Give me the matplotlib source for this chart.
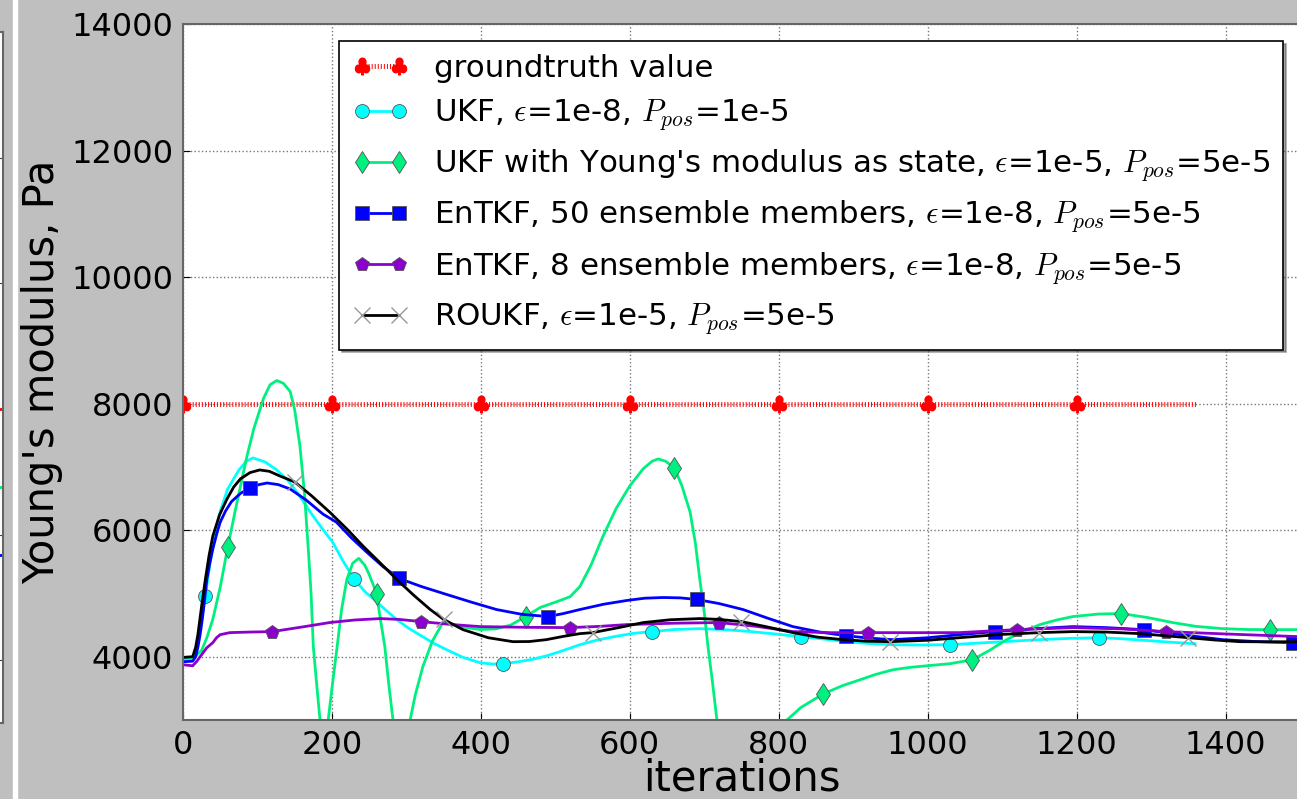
import numpy as np
import matplotlib
matplotlib.use('Agg')
import matplotlib.pyplot as plt
from matplotlib.patches import Rectangle

plt.rcParams['mathtext.fontset'] = 'cm'
plt.rcParams['font.family'] = ['DejaVu Sans']
plt.rcParams['lines.scale_dashes'] = False

# groundtruth
gt_x = [0, 200, 400, 600, 800, 1000, 1200, 1360]
gt_y = [8000, 8000, 8000, 8000, 8000, 8000, 8000, 8000]
gt_marks = [0, 200, 400, 600, 800, 1000, 1200]

# UKF, eps=1e-8
ukf_x = [0, 13, 18, 24, 30, 36, 42, 50, 60, 75, 85, 94, 110, 125, 140, 155, 171, 186, 201,
         215, 230, 245, 260, 274, 287, 303, 320, 337, 354, 376, 399, 415, 430, 450, 470,
         490, 506, 533, 555, 580, 605, 630, 660, 694, 725, 760, 795, 830, 860, 890, 920,
         953, 990, 1030, 1060, 1090, 1120, 1151, 1190, 1230, 1260, 1290, 1325, 1359]
ukf_y = [3950, 3960, 4100, 4500, 4952, 5450, 5900, 6300, 6650, 6950, 7090, 7142, 7080,
         6960, 6800, 6570, 6285, 6040, 5810, 5510, 5222, 5020, 4870, 4720, 4587, 4450,
         4330, 4210, 4111, 3990, 3905, 3885, 3890, 3920, 3960, 4020, 4080, 4190, 4260,
         4320, 4370, 4397, 4430, 4444, 4430, 4400, 4360, 4317, 4280, 4240, 4210, 4190,
         4185, 4190, 4210, 4230, 4250, 4270, 4290, 4300, 4285, 4260, 4230, 4206]
ukf_marks = [30, 230, 430, 630, 830, 1030, 1230]

# UKF with Young's modulus as state
ukfy_x = [0, 15, 25, 32, 40, 50, 60, 70, 80, 86, 95, 108, 117, 126, 135, 144, 150, 157,
          163, 168, 172, 175, 180, 184, 190, 195, 200, 207, 213, 220, 228, 236, 244, 250,
          256, 260, 265, 271, 276, 282, 293, 305, 312, 322, 335, 349, 365, 381, 399, 420,
          440, 460, 480, 502, 520, 533, 548, 564, 582, 600, 618, 630, 638, 648, 660, 670,
          681, 688, 694, 700, 705, 711, 717, 740, 770, 795, 811, 830, 860, 885, 909, 930,
          953, 975, 999, 1030, 1060, 1083, 1106, 1128, 1151, 1173, 1195, 1230, 1260, 1295,
          1329, 1360, 1396, 1430, 1460, 1500]
ukfy_y = [3980, 3990, 4100, 4300, 4590, 5100, 5730, 6300, 6850, 7175, 7600, 8080, 8300,
          8365, 8320, 8190, 7900, 7333, 6600, 5745, 5000, 4160, 3500, 3000, 2000, 3000,
          3500, 4160, 4750, 5222, 5480, 5555, 5450, 5300, 5120, 4984, 4600, 4160, 3600,
          3000, 2000, 3000, 3400, 3840, 4250, 4540, 4500, 4460, 4430, 4440, 4500, 4635,
          4780, 4870, 4950, 5110, 5450, 5905, 6350, 6700, 6970, 7090, 7126, 7090, 6985,
          6700, 6285, 5800, 5222, 4700, 4160, 3600, 3000, 500, 0, 2000, 3000, 3200, 3413,
          3540, 3635, 3720, 3793, 3830, 3857, 3890, 3952, 4100, 4270, 4400, 4508, 4580,
          4635, 4675, 4682, 4620, 4540, 4480, 4444, 4430, 4428, 4428]
ukfy_marks = [60, 260, 460, 660, 860, 1060, 1260, 1460]

# EnTKF, 50 members
en50_x = [0, 13, 17, 20, 23, 26, 29, 32, 36, 40, 45, 50, 57, 65, 77, 90, 102, 113, 128,
          144, 165, 188, 206, 226, 247, 268, 290, 320, 354, 388, 421, 455, 490, 510, 533,
          565, 596, 620, 645, 668, 690, 720, 752, 785, 819, 855, 890, 920, 953, 1000, 1043,
          1090, 1140, 1195, 1240, 1290, 1340, 1396, 1440, 1490, 1500]
en50_y = [3920, 3930, 4000, 4150, 4350, 4600, 4900, 5222, 5480, 5700, 5930, 6127, 6300,
          6450, 6580, 6666, 6720, 6746, 6720, 6650, 6480, 6254, 6127, 5880, 5650, 5430,
          5238, 5110, 4984, 4860, 4746, 4670, 4635, 4680, 4746, 4830, 4889, 4925, 4936,
          4930, 4905, 4840, 4746, 4610, 4476, 4390, 4333, 4295, 4270, 4300, 4349, 4397,
          4440, 4476, 4460, 4428, 4350, 4270, 4240, 4222, 4222]
en50_marks = [90, 290, 490, 690, 890, 1090, 1290, 1490]

# EnTKF, 8 members
en8_x = [0, 13, 18, 23, 28, 32, 40, 45, 50, 63, 90, 120, 160, 197, 230, 265, 290, 320,
         360, 399, 460, 520, 560, 596, 660, 720, 770, 819, 870, 920, 980, 1043, 1080,
         1120, 1195, 1260, 1320, 1400, 1500]
en8_y = [3873, 3857, 3920, 4000, 4080, 4143, 4222, 4300, 4349, 4381, 4390, 4397, 4470,
         4540, 4580, 4603, 4590, 4555, 4510, 4476, 4465, 4460, 4480, 4508, 4530, 4540,
         4480, 4397, 4380, 4381, 4380, 4381, 4405, 4428, 4460, 4440, 4397, 4360, 4317]
en8_marks = [120, 320, 520, 720, 920, 1120, 1320]

# ROUKF
rou_x = [0, 13, 17, 20, 25, 30, 35, 40, 49, 59, 68, 77, 90, 103, 116, 130, 150, 173, 197,
         220, 242, 265, 287, 310, 332, 350, 376, 410, 443, 465, 488, 510, 533, 550, 585,
         618, 655, 694, 720, 750, 785, 819, 852, 886, 918, 950, 1000, 1043, 1095, 1150,
         1195, 1240, 1285, 1350, 1385, 1419, 1460, 1500]
rou_y = [3990, 4000, 4150, 4350, 4800, 5222, 5600, 5905, 6240, 6492, 6680, 6810, 6910,
         6952, 6930, 6857, 6762, 6540, 6285, 6020, 5746, 5480, 5222, 4970, 4746, 4590,
         4428, 4300, 4238, 4240, 4270, 4320, 4365, 4381, 4460, 4540, 4585, 4603, 4590,
         4555, 4470, 4381, 4310, 4270, 4245, 4238, 4260, 4301, 4350, 4381, 4397, 4390,
         4365, 4301, 4265, 4238, 4235, 4238]
rou_marks = [150, 350, 550, 750, 950, 1150, 1350]

# edge of the neighbouring panel (only its right border is visible)
left_vals = [8000, 6750, 5675]
left_cols = ['red', '#00ee76', 'blue']

W, H = 1297, 799
fig = plt.figure(figsize=(W / 100, H / 100), dpi=100, facecolor='#bfbfbf')

# neighbouring panel, cut off at the left
axl = fig.add_axes([-0.2, (H - 723) / H, 0.2 + 2.5 / W, (723 - 32) / H])
axl.set_facecolor('white')
for v, c in zip(left_vals, left_cols):
    axl.plot([0.5, 1.0], [v, v], color=c, lw=2)
axl.set_xlim(0, 1)
axl.set_ylim(3000, 14000)
axl.set_yticks([4000, 6000, 8000, 10000, 12000])
axl.yaxis.tick_right()
axl.tick_params(direction='in', length=6, labelright=False, color='#444444')
axl.set_xticks([])
for s in axl.spines.values():
    s.set_color('#666666')
    s.set_linewidth(1.5)

fig.patches.append(Rectangle((13 / W, 0), 4 / W, 1, transform=fig.transFigure,
                             color='white', zorder=0))

ax = fig.add_axes([183 / W, (H - 720) / H, (1300 - 183) / W, (720 - 24) / H])
ax.set_facecolor('white')


def idx(xs, marks):
    return [xs.index(m) for m in marks]


ax.plot(gt_x, gt_y, color='red', lw=3.6, linestyle=(0, (0.7, 1.5)),
        marker=r'$\clubsuit$', ms=12, mfc='red', mec='red',
        markevery=idx(gt_x, gt_marks), label='groundtruth value')
ax.plot(ukf_x, ukf_y, color='#00ffff', lw=2, marker='o', ms=10, mfc='#00ffff',
        mec='#555555', mew=0.6, markevery=idx(ukf_x, ukf_marks),
        label=r'UKF, $\epsilon$=1e-8, $P_{pos}$=1e-5')
ax.plot(ukfy_x, ukfy_y, color='#00f07f', lw=2, marker='d', ms=11.5, mfc='#00f07f',
        mec='#555555', mew=0.6, markevery=idx(ukfy_x, ukfy_marks),
        label=r"UKF with Young's modulus as state, $\epsilon$=1e-5, $P_{pos}$=5e-5")
ax.plot(en50_x, en50_y, color='#0000ff', lw=2, marker='s', ms=9.5, mfc='#0000ff',
        mec='#555555', mew=0.6, markevery=idx(en50_x, en50_marks),
        label=r'EnTKF, 50 ensemble members, $\epsilon$=1e-8, $P_{pos}$=5e-5')
ax.plot(en8_x, en8_y, color='#8b00cc', lw=2, marker='p', ms=10.5, mfc='#8b00cc',
        mec='#555555', mew=0.6, markevery=idx(en8_x, en8_marks),
        label=r'EnTKF, 8 ensemble members, $\epsilon$=1e-8, $P_{pos}$=5e-5')
ax.plot(rou_x, rou_y, color='black', lw=2, marker='x', ms=12, mec='#999999', mew=1,
        markevery=idx(rou_x, rou_marks),
        label=r'ROUKF, $\epsilon$=1e-5, $P_{pos}$=5e-5')

ax.set_xlim(0, 1500)
ax.set_ylim(3000, 14000)
ax.set_xticks(range(0, 1401, 200))
ax.set_yticks(range(4000, 14001, 2000))
ax.grid(True, color='#777777', linestyle=':', lw=1)
ax.tick_params(direction='in', labelsize=23, pad=7, length=5)
for s in ax.spines.values():
    s.set_color('#666666')
    s.set_linewidth(1.5)

ax.set_xlabel('iterations', fontsize=30, labelpad=-2)
ax.set_ylabel("Young's modulus, Pa", fontsize=30, labelpad=6)

leg = ax.legend(loc='upper right', fontsize=22.2, numpoints=2, handlelength=1.8,
                handletextpad=0.85, borderaxespad=0.55, fancybox=False, shadow=True,
                framealpha=1, edgecolor='black', labelspacing=0.49, borderpad=0.42)
leg.get_frame().set_linewidth(1.2)

fig.savefig('out.png', dpi=100, facecolor=fig.get_facecolor())
